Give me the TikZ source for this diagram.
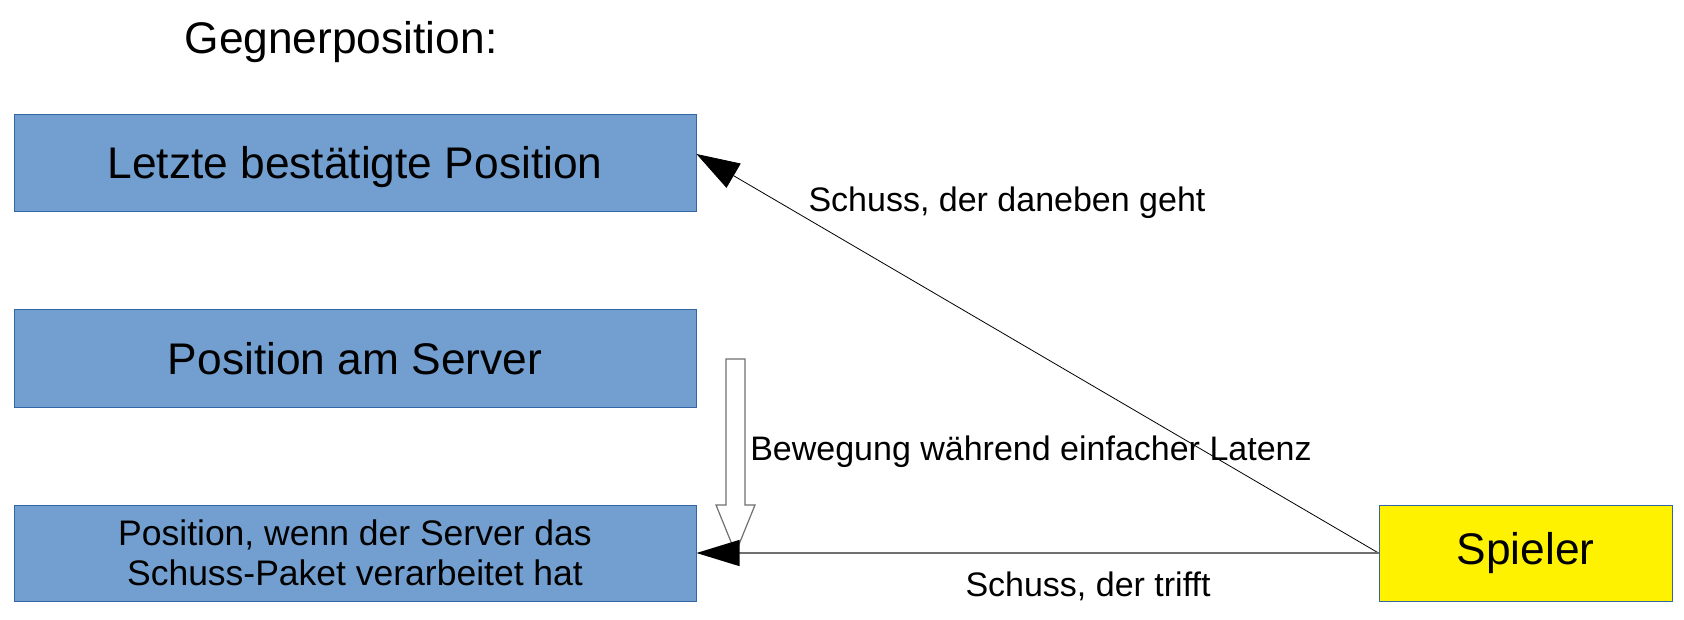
\documentclass[tikz,border=0pt]{standalone}
\usepackage{fontspec}
\setmainfont{Liberation Sans}
\usetikzlibrary{arrows.meta}
\definecolor{boxblue}{HTML}{729FCF}
\definecolor{boxline}{HTML}{3465A4}
\definecolor{lgray}{HTML}{707070}
\tikzset{
  posbox/.style={draw=boxline, fill=boxblue, line width=1pt, minimum width=682pt, minimum height=97pt, inner sep=0pt, align=center, font=\fontsize{44.3}{53}\selectfont},
  playerbox/.style={draw=boxline, fill=yellow, line width=1pt, minimum width=293pt, minimum height=96pt, inner sep=0pt, font=\fontsize{44.3}{53}\selectfont},
  lbl/.style={font=\fontsize{34}{40}\selectfont, inner sep=0pt},
  shot/.style={-{Triangle[length=43pt,width=28pt]}},
}
\begin{document}
\begin{tikzpicture}[x=1pt,y=-1pt]
\useasboundingbox (0,0) rectangle (1684,620);
\node[font=\fontsize{44.3}{53}\selectfont, inner sep=0pt] (title) at (341,42) {Gegnerposition:};
\node[posbox, text height=36pt, text depth=6pt] (l1) at (355,163.5) {Letzte bestätigte Position};
\node[posbox] (l2) at (355,358.5) {Position am Server};
\node[posbox, minimum height=96pt, font=\fontsize{35.5}{40}\selectfont] (l3) at (355,553) {Position, wenn der Server das\\Schuss-Paket verarbeitet hat};
\node[playerbox] (sp) at (1525.5,553) {Spieler};
% hollow movement arrow
\draw[lgray, line width=1.2pt, fill=white] (726,359) -- (745,359) -- (745,505) -- (755,505) -- (735.5,553) -- (716,505) -- (726,505) -- cycle;
\draw[shot, black, line width=0.8pt] (sp.west) -- ([yshift=9.5pt]l1.east);
\draw[lgray, line width=1.4pt, -{Triangle[length=43pt,width=26pt,fill=black,color=black]}] (sp.west) -- (l3.east);
\node[lbl] (miss) at (1007,203) {Schuss, der daneben geht};
\node[lbl] (move) at (1031,452) {Bewegung während einfacher Latenz};
\node[lbl] (hit) at (1088,586) {Schuss, der trifft};
\end{tikzpicture}
\end{document}
